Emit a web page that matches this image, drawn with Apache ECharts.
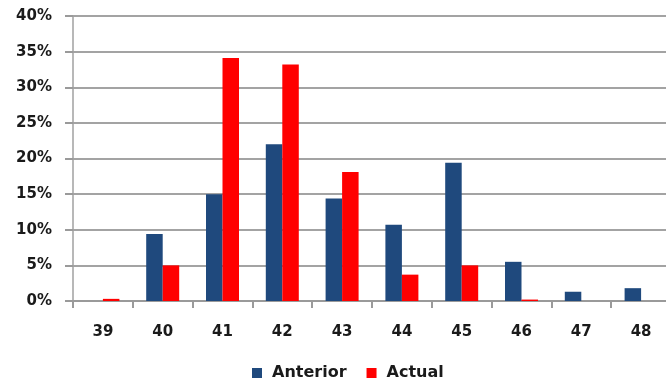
<!DOCTYPE html>
<html>
<head>
<meta charset="utf-8">
<script src="https://cdn.jsdelivr.net/npm/echarts@6/dist/echarts.min.js"></script>
<style>
  html, body { margin: 0; padding: 0; background: #ffffff; }
  #chart { width: 666px; height: 392px; }
</style>
</head>
<body>
<div id="chart"></div>
<script>
// Categories along the x axis
const categories = ['39', '40', '41', '42', '43', '44', '45', '46', '47', '48'];
// Share per category, in percent
const anterior = [0, 9.4, 15.0, 22.0, 14.4, 10.7, 19.4, 5.5, 1.3, 1.8];
const actual = [0.3, 5.0, 34.1, 33.2, 18.1, 3.7, 5.0, 0.2, 0, 0];
// Y axis range and step, in percent
const yMin = 0;
const yMax = 40;
const yStep = 5;

const labelFont = 'DejaVu Sans';
const chart = echarts.init(document.getElementById('chart'), null, { renderer: 'canvas' });

chart.setOption({
  animation: false,
  backgroundColor: '#ffffff',
  // plot area runs slightly past the right edge of the canvas
  grid: { left: 73, width: 598, top: 16, bottom: 91, containLabel: false, outerBoundsMode: 'none' },
  legend: {
    data: ['Anterior', 'Actual'],
    left: 247,
    top: 360,
    icon: 'rect',
    itemWidth: 10,
    itemHeight: 10,
    itemGap: 20,
    textStyle: {
      fontFamily: labelFont,
      fontWeight: 'bold',
      fontSize: 16,
      color: '#1a1a1a',
      padding: [0, 0, 0, 5]
    }
  },
  xAxis: {
    type: 'category',
    data: categories,
    axisLine: { show: true, lineStyle: { color: '#9a9a9a', width: 2 } },
    axisTick: { show: true, length: 7, alignWithLabel: false, lineStyle: { color: '#9a9a9a', width: 2 } },
    axisLabel: {
      fontFamily: labelFont,
      fontWeight: 'bold',
      fontSize: 15,
      color: '#1a1a1a',
      margin: 24
    },
    splitLine: { show: false }
  },
  yAxis: {
    type: 'value',
    min: yMin,
    max: yMax,
    interval: yStep,
    axisLine: { show: true, lineStyle: { color: '#a0a0a0', width: 1.5 } },
    axisTick: { show: true, length: 8, lineStyle: { color: '#9a9a9a', width: 2 } },
    axisLabel: {
      formatter: '{value}%',
      fontFamily: labelFont,
      fontWeight: 'bold',
      fontSize: 15,
      color: '#1a1a1a',
      margin: 21
    },
    splitLine: { show: true, lineStyle: { color: '#a3a3a3', width: 2 } }
  },
  series: [
    {
      name: 'Anterior',
      type: 'bar',
      data: anterior,
      barWidth: 16.5,
      barGap: '0%',
      itemStyle: { color: '#1f497d' }
    },
    {
      name: 'Actual',
      type: 'bar',
      data: actual,
      barWidth: 16.5,
      barGap: '0%',
      itemStyle: { color: '#ff0000' }
    }
  ]
});
</script>
</body>
</html>
